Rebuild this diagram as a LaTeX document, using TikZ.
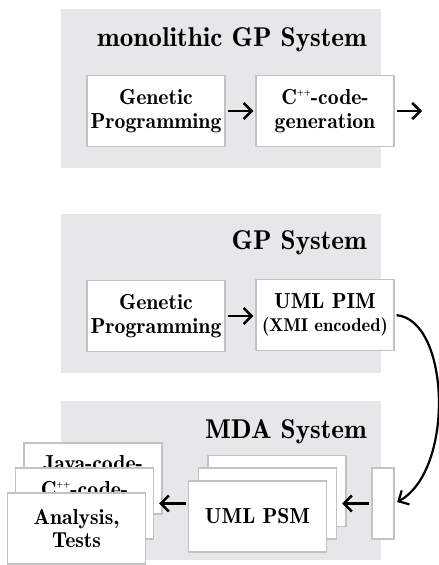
\documentclass[tikz,border=0pt]{standalone}
\usepackage{fontspec}
\usetikzlibrary{arrows.meta}

\newfontfamily\gpserif{lmromandemi10-regular.otf}

\definecolor{panelgray}{HTML}{E6E7E9}
\definecolor{boxline}{HTML}{C2C2C2}

\newcommand\gpboxfont{\gpserif\fontsize{21.8}{23.5}\selectfont}
\newcommand\gptitlefont{\gpserif\fontsize{27.3}{30}\selectfont}
\newcommand\gpsmallfont{\gpserif\fontsize{18.6}{21}\selectfont}
% C with small raised plus signs
\newcommand\cpp{C\raisebox{0.95ex}{\fontsize{9}{9}\selectfont++}}

\begin{document}
\begin{tikzpicture}[x=1bp,y=-1bp,
    panel/.style={fill=panelgray},
    box/.style={draw=boxline,line width=1.2bp,fill=white,inner sep=0pt,
      minimum width=138bp,minimum height=71bp,align=center,font=\gpboxfont},
    boxtext/.style={font=\gpboxfont,inner sep=0pt},
    title/.style={anchor=east,font=\gptitlefont,inner sep=0pt},
    arr/.style={line width=2.5bp,shorten <=2bp,shorten >=2bp,
      -{Straight Barb[length=8bp,width=16bp]}}]
  \useasboundingbox (0,0) rectangle (439,565);

  % grey system panels
  \fill[panel] (61,9) rectangle (381,168);
  \fill[panel] (61,214) rectangle (381,373);
  \fill[panel] (61,401) rectangle (381,560);

  % monolithic system
  \node[title] (monotitle) at (367,40) {monolithic GP System};
  \node[box] (gp1) at (156,111) {Genetic\\Programming};
  \node[box] (cpp1) at (325,111) {\cpp-code-\\generation};
  \coordinate (out1) at (424,111);
  \draw[arr] (gp1) -- (cpp1);
  \draw[arr] (cpp1) -- (out1);

  % GP system
  \node[title] (gptitle) at (367,243) {GP System};
  \node[box] (gp2) at (156,316) {Genetic\\Programming};
  \node[box] (pim) at (325,315) {UML PIM\\[-1bp]\gpsmallfont(XMI encoded)};
  \draw[arr] (gp2) -- (gp2 -| pim.west);

  % MDA system
  \node[title] (mdatitle) at (367,432) {MDA System};
  \node[box,minimum width=22bp] (pin) at (383,503.5) {};

  % stack of platform specific models
  \node[box] (psmback) at (277,491) {};
  \node[box] (psmmid) at (267.5,503.5) {};
  \node[box] (psm) at (257.5,516.5) {UML PSM};

  % stack of generated artefacts
  \node[box] (java) at (93,478.5) {};
  \node[boxtext] (javatext) at (93,463) {Java-code-};
  \node[box] (cppgen) at (84.5,503.5) {};
  \node[boxtext] (cpptext) at (84.5,489) {\cpp-code-};
  \node[box] (tests) at (76.5,528.5) {Analysis,\\Tests};

  \draw[arr,shorten >=5bp] (pin) -- (pin -| psmmid.east);
  \draw[arr,shorten >=5bp] (psm.west |- cppgen.east) -- (cppgen.east);
  \draw[arr,line width=2.2bp,shorten >=3bp] (pim.east) .. controls (450,320) and (455,470) .. (pin.east);
\end{tikzpicture}
\end{document}
